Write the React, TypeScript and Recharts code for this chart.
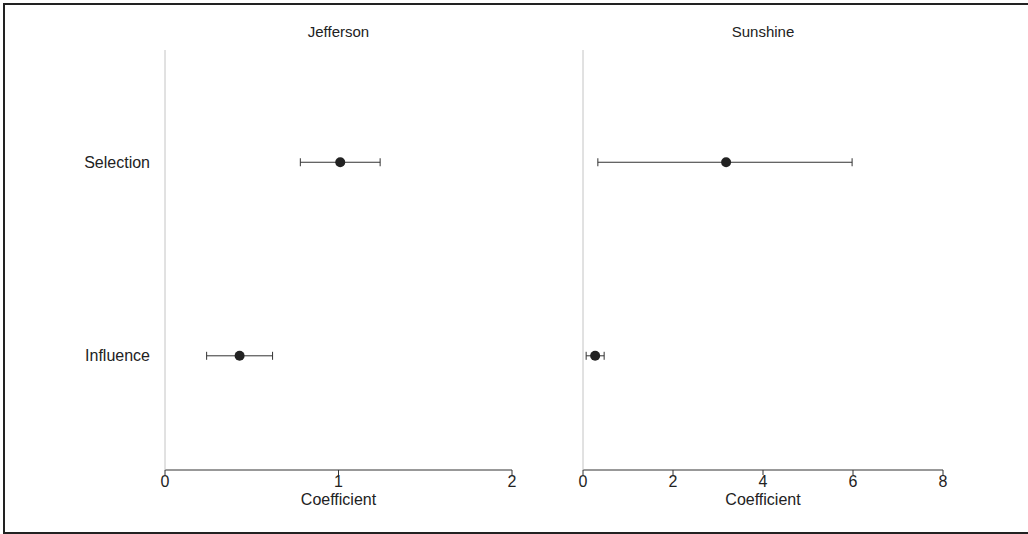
import { ScatterChart, Scatter, XAxis, YAxis, ErrorBar } from "recharts";

const predictors = ["Selection", "Influence"];
const predictorPos = [2, 1];

const jeffersonEstimate = [1.01, 0.43];
const jeffersonLower = [0.78, 0.24];
const jeffersonUpper = [1.24, 0.62];

const sunshineEstimate = [3.18, 0.27];
const sunshineLower = [0.33, 0.07];
const sunshineUpper = [5.98, 0.47];

const jeffersonTicks = [0, 1, 2];
const sunshineTicks = [0, 2, 4, 6, 8];

const buildRows = (est: number[], lo: number[], hi: number[]) =>
    predictors.map((name, i) => ({
        name,
        x: est[i],
        y: predictorPos[i],
        err: [est[i] - lo[i], hi[i] - est[i]],
    }));

const jeffersonData = buildRows(jeffersonEstimate, jeffersonLower, jeffersonUpper);
const sunshineData = buildRows(sunshineEstimate, sunshineLower, sunshineUpper);

const font = '"Liberation Sans", Arial, sans-serif';

const Dot = (props: any) => <circle cx={props.cx} cy={props.cy} r={5} fill="#222" />;

interface PanelProps {
    title: string;
    data: typeof jeffersonData;
    ticks: number[];
    width: number;
    yAxisWidth: number;
    rightMargin: number;
    showLabels: boolean;
}

function Panel({ title, data, ticks, width, yAxisWidth, rightMargin, showLabels }: PanelProps) {
    const plotCenter = yAxisWidth + (width - yAxisWidth - rightMargin) / 2;
    return (
        <div style={{ position: "relative", width, height: 534 }}>
            <div
                style={{
                    position: "absolute",
                    top: 23,
                    left: plotCenter - 100,
                    width: 200,
                    textAlign: "center",
                    fontSize: 15,
                    color: "#222",
                }}
            >
                {title}
            </div>
            <ScatterChart width={width} height={534} margin={{ top: 50, right: rightMargin, bottom: 0, left: 0 }}>
                <XAxis
                    type="number"
                    dataKey="x"
                    domain={[ticks[0], ticks[ticks.length - 1]]}
                    ticks={ticks}
                    allowDataOverflow
                    height={64}
                    stroke="#333"
                    tickSize={5}
                    tickMargin={1}
                    tick={{ fill: "#222", fontSize: 16, fontFamily: font }}
                    label={{ value: "Coefficient", position: "insideTop", offset: 24, fill: "#222", fontSize: 16, fontFamily: font }}
                />
                <YAxis
                    type="number"
                    dataKey="y"
                    domain={[0.41, 2.58]}
                    ticks={predictorPos}
                    allowDataOverflow
                    width={yAxisWidth}
                    axisLine={{ stroke: "#c4c4c4" }}
                    tickLine={false}
                    tickMargin={9}
                    tick={showLabels ? { fill: "#222", fontSize: 16, fontFamily: font } : false}
                    tickFormatter={(v: number) => predictors[predictorPos.indexOf(v)] ?? ""}
                />
                <Scatter data={data} shape={Dot} isAnimationActive={false}>
                    <ErrorBar dataKey="err" direction="x" width={4} stroke="#333" strokeWidth={1} />
                </Scatter>
            </ScatterChart>
        </div>
    );
}

export default function App() {
    return (
        <div
            style={{
                position: "absolute",
                left: 0,
                top: 0,
                width: 1028,
                height: 534,
                background: "#fff",
                fontFamily: font,
                overflow: "hidden",
            }}
        >
            <div
                style={{
                    position: "absolute",
                    left: 3,
                    top: 3,
                    width: 1040,
                    height: 527,
                    border: "2px solid #222",
                }}
            />
            <div style={{ position: "absolute", left: 0, top: 0, display: "flex" }}>
                <Panel
                    title="Jefferson"
                    data={jeffersonData}
                    ticks={jeffersonTicks}
                    width={540}
                    yAxisWidth={165}
                    rightMargin={28}
                    showLabels
                />
                <Panel
                    title="Sunshine"
                    data={sunshineData}
                    ticks={sunshineTicks}
                    width={488}
                    yAxisWidth={43}
                    rightMargin={85}
                    showLabels={false}
                />
            </div>
        </div>
    );
}
